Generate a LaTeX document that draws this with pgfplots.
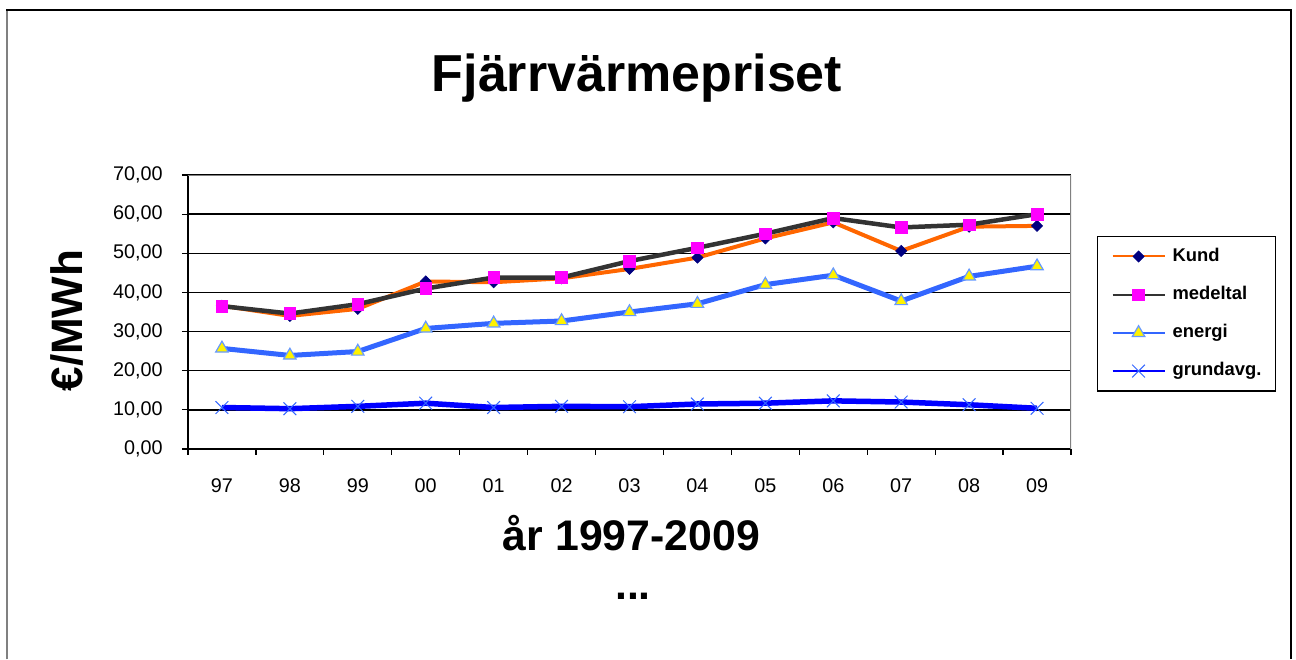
\documentclass[border=0pt]{standalone}
\usepackage{pgfplots}
\pgfplotsset{compat=1.18}
\usepackage{fontspec}
\setmainfont{Liberation Sans}
\definecolor{kundorange}{HTML}{FF6600}
\definecolor{navyd}{HTML}{000080}
\definecolor{medelgray}{HTML}{333333}
\definecolor{magentap}{HTML}{FF00FF}
\definecolor{energiblue}{HTML}{3366FF}
\definecolor{markedge}{HTML}{6699FF}
\definecolor{grundblue}{HTML}{0000FF}
\definecolor{framegray}{HTML}{808080}
\begin{document}
\begin{tikzpicture}
\useasboundingbox (0,0) rectangle (648pt,329.5pt);
% outer chart frame
\draw[black, line width=1pt] (3.5pt,0pt) -- (3.5pt,324.5pt) -- (645.5pt,324.5pt) -- (645.5pt,0pt);
\draw[gray, line width=1pt] (3.5pt,0pt) -- (3.5pt,324pt);
\begin{axis}[
  at={(94pt,105pt)}, anchor=south west,
  scale only axis, width=441.5pt, height=137pt,
  xmin=-0.5, xmax=12.5, ymin=0, ymax=70,
  axis lines*=left,
  axis line style={black, line width=0.75pt},
  xtick={0,...,12},
  xticklabels={97,98,99,00,01,02,03,04,05,06,07,08,09},
  minor xtick={-0.5,0.5,...,12.5},
  ytick={0,10,...,70},
  tick align=outside,
  major tick length=3pt, minor tick length=3pt,
  major x tick style={draw=none},
  tick style={black, line width=0.6pt},
  ymajorgrids, grid style={black, line width=0.7pt},
  ticklabel style={font=\fontsize{9.9}{10}\selectfont},
  yticklabel style={inner sep=0pt, xshift=-9.5pt,
    /pgf/number format/fixed, /pgf/number format/fixed zerofill,
    /pgf/number format/precision=2, /pgf/number format/use comma,
    /pgf/number format/assume math mode=true},
  xticklabel style={inner sep=0pt, yshift=-11.6pt},
  legend style={at={(1.0294,0.7774)}, anchor=north west, draw=black, line width=0.6pt,
    font=\bfseries\fontsize{9.2}{10}\selectfont,
    inner xsep=7pt, inner ysep=5.6pt, row sep=10.4pt, column sep=3.5pt,
    nodes={inner sep=0pt, text height=6.7pt, text depth=2pt}},
  legend cell align=left,
  legend image code/.code={\draw[mark repeat=2, mark phase=2, #1, line width=1pt] plot coordinates {(0pt,0pt) (13pt,0pt) (26pt,0pt)};},
]
\draw[framegray, line width=0.75pt] (rel axis cs:0,1) -- (rel axis cs:1,1) -- (rel axis cs:1,0);
\addplot[color=kundorange, line width=2pt, mark=diamond*, mark size=2.8pt,
  mark options={solid, fill=navyd, draw=navyd, xscale=1.33, line width=0.3pt}]
  coordinates {(0,36.6) (1,34.0) (2,35.8) (3,42.8) (4,42.6) (5,43.6) (6,46.0) (7,48.9) (8,53.8) (9,57.9) (10,50.6) (11,56.8) (12,57.0)};
\addlegendentry{Kund}
\addplot[color=medelgray, line width=2.25pt, mark=square*, mark size=2.9pt,
  mark options={solid, fill=magentap, draw=magentap, line width=0.3pt}]
  coordinates {(0,36.5) (1,34.6) (2,37.0) (3,41.0) (4,43.8) (5,43.8) (6,48.0) (7,51.4) (8,55.0) (9,59.0) (10,56.6) (11,57.3) (12,60.0)};
\addlegendentry{medeltal}
\addplot[color=energiblue, line width=2.5pt, mark=triangle*, mark size=3.6pt,
  mark options={solid, fill=yellow, draw=markedge, line width=0.6pt}]
  coordinates {(0,25.7) (1,23.9) (2,24.9) (3,30.8) (4,32.1) (5,32.7) (6,35.0) (7,37.1) (8,42.0) (9,44.4) (10,37.8) (11,44.1) (12,46.7)};
\addlegendentry{energi}
\addplot[color=grundblue, line width=2.75pt, mark=x, mark size=4.5pt,
  mark options={solid, draw=energiblue, line width=0.5pt}]
  coordinates {(0,10.6) (1,10.3) (2,10.9) (3,11.7) (4,10.6) (5,10.9) (6,10.8) (7,11.5) (8,11.7) (9,12.3) (10,12.0) (11,11.3) (12,10.4)};
\addlegendentry{grundavg.}
\end{axis}
\node[anchor=base, inner sep=0pt, font=\bfseries\fontsize{26}{28}\selectfont] at (318.5pt,283.5pt) {Fjärrvärmepriset};
\node[anchor=base, inner sep=0pt, font=\bfseries\fontsize{21.4}{24}\selectfont] at (315.75pt,54.5pt) {år 1997-2009};
\node[anchor=base, inner sep=0pt, font=\bfseries\fontsize{21.4}{24}\selectfont] at (316.5pt,30pt) {...};
\node[anchor=base, inner sep=0pt, rotate=90, font=\bfseries\fontsize{22}{24}\selectfont] at (41.5pt,169.25pt) {€/MWh};
\end{tikzpicture}
\end{document}
